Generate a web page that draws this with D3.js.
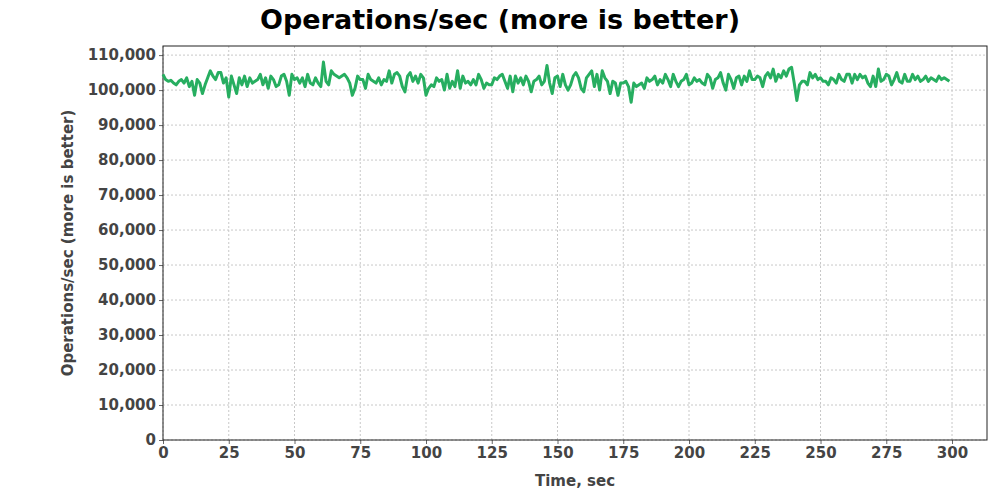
<!DOCTYPE html>
<html>
<head>
<meta charset="utf-8">
<script src="https://cdn.jsdelivr.net/npm/d3@7"></script>
<style>
body { margin: 0; background: #fff; }
text { font-family: "DejaVu Sans", sans-serif; }
.tick text { font-size: 15px; font-weight: bold; fill: #444; }
</style>
</head>
<body>
<svg width="1000" height="500"></svg>
<script>
// ops/sec, one value per second starting at 0
var opsValues = [
104500,103000,102500,102800,102000,101500,102500,103000,102000,103500,101000,102500,98500,103000,102000,99000,101500,103500,105500,104000,103000,105000,105000,102000,103500,
98000,104000,101500,99000,103500,101500,104000,101000,103500,102000,102500,103000,104500,101500,103500,100500,104000,103000,101000,101500,104000,104500,102500,98500,104500,
103000,103500,102000,103500,101000,104500,102000,101500,103500,102000,101000,108000,102500,101500,105500,104500,104000,103500,104000,104500,103500,102000,98500,100500,104000,
103000,103000,100500,104500,103000,102500,102000,103500,101500,103000,102500,105500,102000,104500,105000,104000,101000,99500,104000,105000,102500,104000,102000,104500,103500,
98500,100500,101500,101000,103500,102500,103000,100000,104500,100500,102500,101000,105500,100500,104000,102000,102500,101500,103000,101500,104500,103000,100500,102000,101500,
101500,103500,103000,104000,104500,102500,100500,104000,99500,104000,102000,103500,101500,104000,102500,99500,102500,103000,104000,101500,102500,107000,102000,99000,103500,
104000,101000,104500,101500,100000,101500,104000,105000,103500,100500,99500,103500,104500,105500,101000,104500,100000,105500,103500,102500,99000,102500,102000,98500,102000,
102000,102500,101000,96500,102000,101000,101500,102000,100500,103500,102500,103000,104000,101500,103000,102000,104500,103000,101000,104500,102500,101000,102500,103000,104500,
101500,102000,103500,102500,103000,102000,101500,104500,103500,100500,103000,103500,105000,102000,100000,104500,103000,100500,103500,104000,101500,104000,102500,105500,103000,
103000,104000,103500,101000,104000,105000,103500,106000,102500,104500,103500,105500,104000,106000,106500,102000,97000,101500,102500,102500,101500,105000,103500,104500,103000,
103500,102500,102500,101500,103500,103000,102000,104500,103000,102500,104500,104500,102000,104500,103000,104500,103500,104000,102000,101000,104000,101000,106000,102500,103000,
104500,104000,101500,103000,105000,102500,102000,104500,102500,102500,104500,103000,104000,102500,103000,104000,102500,103500,103000,102500,104000,103000,103500,103000,102500
];
var xTicks = [0, 25, 50, 75, 100, 125, 150, 175, 200, 225, 250, 275, 300];
var yTicks = [0, 10000, 20000, 30000, 40000, 50000, 60000, 70000, 80000, 90000, 100000, 110000];

var svg = d3.select('svg');
var padding = { t: 46, r: 13, b: 60, l: 163 };
var chartWidth = 1000 - padding.l - padding.r;
var chartHeight = 500 - padding.t - padding.b;

var chartG = svg.append('g')
    .attr('transform', 'translate(' + [padding.l, padding.t] + ')');

var xScale = d3.scaleLinear().domain([0, 313.3]).range([0, chartWidth]);
var yScale = d3.scaleLinear().domain([0, 112600]).range([chartHeight, 0]);

// grid
chartG.selectAll('.vgrid').data(xTicks).enter().append('line')
    .attr('x1', function(d) { return xScale(d); }).attr('x2', function(d) { return xScale(d); })
    .attr('y1', 0).attr('y2', chartHeight)
    .attr('stroke', '#c8c8c8').attr('stroke-dasharray', '2,2');
chartG.selectAll('.hgrid').data(yTicks).enter().append('line')
    .attr('y1', function(d) { return yScale(d); }).attr('y2', function(d) { return yScale(d); })
    .attr('x1', 0).attr('x2', chartWidth)
    .attr('stroke', '#c8c8c8').attr('stroke-dasharray', '2,2');

chartG.append('g')
    .attr('transform', 'translate(0,' + chartHeight + ')')
    .call(d3.axisBottom(xScale).tickValues(xTicks).tickSize(4).tickSizeOuter(0))
    .call(function(g) { g.select('.domain').remove(); g.selectAll('line').attr('stroke', '#666'); });

chartG.append('g')
    .call(d3.axisLeft(yScale).tickValues(yTicks).tickFormat(d3.format(',')).tickSize(4).tickSizeOuter(0))
    .call(function(g) { g.select('.domain').remove(); g.selectAll('line').attr('stroke', '#666'); });

chartG.append('rect')
    .attr('width', chartWidth).attr('height', chartHeight)
    .attr('fill', 'none').attr('stroke', '#222');

var line = d3.line()
    .x(function(d, i) { return xScale(i); })
    .y(function(d) { return yScale(d); });

chartG.append('path')
    .datum(opsValues)
    .attr('d', line)
    .attr('fill', 'none')
    .attr('stroke', '#27ae60')
    .attr('stroke-width', 3)
    .attr('stroke-linejoin', 'round');

svg.append('text')
    .attr('x', 500).attr('y', 29)
    .attr('text-anchor', 'middle')
    .style('font-size', '27px').style('font-weight', 'bold')
    .text('Operations/sec (more is better)');

svg.append('text')
    .attr('x', padding.l + chartWidth / 2).attr('y', 486)
    .attr('text-anchor', 'middle')
    .style('font-size', '15px').style('font-weight', 'bold').style('fill', '#444')
    .text('Time, sec');

svg.append('text')
    .attr('transform', 'translate(73,' + (padding.t + chartHeight / 2) + ') rotate(-90)')
    .attr('text-anchor', 'middle')
    .style('font-size', '15px').style('font-weight', 'bold').style('fill', '#444')
    .text('Operations/sec (more is better)');
</script>
</body>
</html>
